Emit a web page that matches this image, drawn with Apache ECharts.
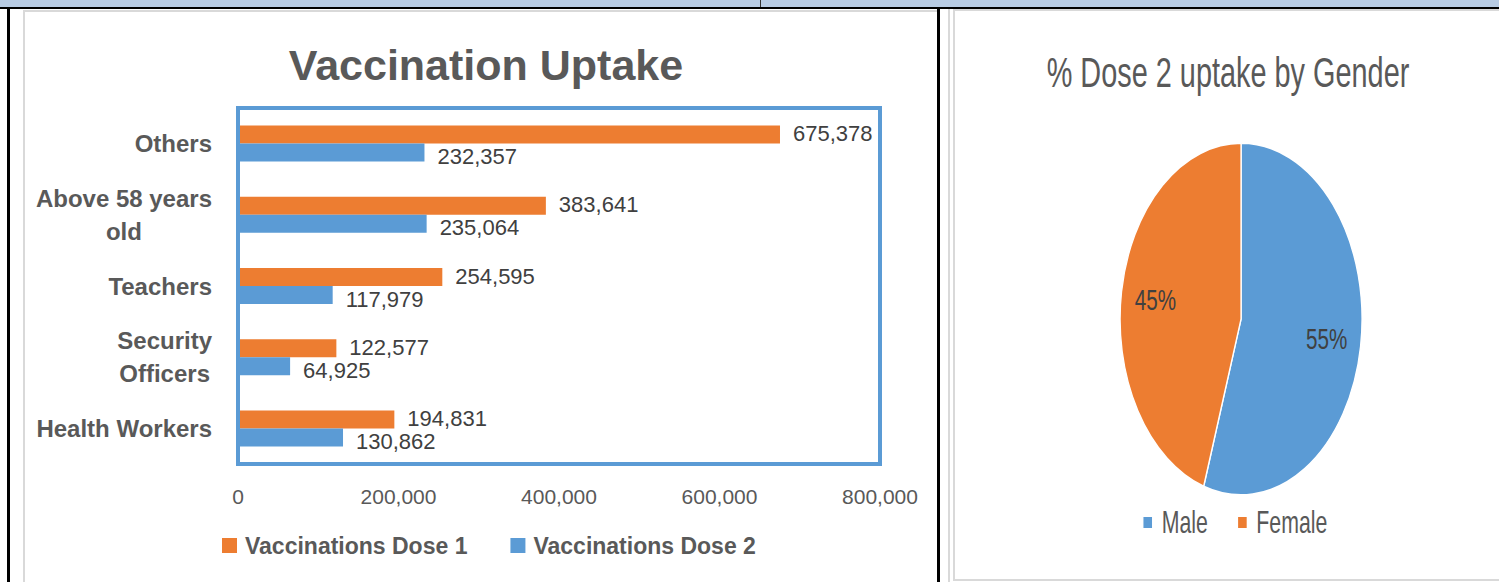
<!DOCTYPE html>
<html>
<head>
<meta charset="utf-8">
<script src="https://cdn.jsdelivr.net/npm/echarts@6/dist/echarts.min.js"></script>
<style>
  html, body { margin: 0; padding: 0; width: 1499px; height: 582px; overflow: hidden; background: #fff; }
  .ln { position: absolute; }
  #bar { position: absolute; left: 0; top: 0; width: 937px; height: 582px; }
  #pie { position: absolute; left: 953px; top: 0; width: 794px; height: 582px; transform: scaleX(0.6875); transform-origin: 0 0; }
</style>
</head>
<body>
<!-- table / frame lines -->
<div class="ln" style="left:0;top:0;width:1499px;height:7px;background:#b8cce4"></div>
<div class="ln" style="left:760px;top:0;width:1px;height:7px;background:#333"></div>
<div class="ln" style="left:0;top:7px;width:1499px;height:2px;background:#000"></div>
<div class="ln" style="left:7px;top:9px;width:3px;height:573px;background:#000"></div>
<div class="ln" style="left:23px;top:10px;width:914px;height:2px;background:#d9d9d9"></div>
<div class="ln" style="left:23px;top:10px;width:2px;height:572px;background:#d9d9d9"></div>
<div class="ln" style="left:937px;top:9px;width:3px;height:573px;background:#000"></div>
<div class="ln" style="left:948px;top:9px;width:2px;height:573px;background:#d9d9d9"></div>
<div class="ln" style="left:953px;top:9px;width:546px;height:2px;background:#d9d9d9"></div>
<div class="ln" style="left:953px;top:9px;width:2px;height:572px;background:#d9d9d9"></div>
<div class="ln" style="left:953px;top:579px;width:546px;height:2px;background:#d9d9d9"></div>
<div id="bar"></div>
<div id="pie"></div>
<script>
// ---- data ----
const categories = ['Health Workers', 'Security Officers', 'Teachers', 'Above 58 years old', 'Others'];
const dose1 = [194831, 122577, 254595, 383641, 675378];
const dose2 = [130862, 64925, 117979, 235064, 232357];
const xTicks = [0, 200000, 400000, 600000, 800000];
const seriesNames = ['Vaccinations Dose 1', 'Vaccinations Dose 2'];
const genders = ['Male', 'Female'];
const genderShare = [55, 45];

// ---- styles ----
const FONT = '"Liberation Sans", Arial, sans-serif';
const ORANGE = '#ed7d31';
const BLUE = '#5b9bd5';
const GREY = '#595959';
const DARK = '#404040';
const fmt = v => Number(v).toLocaleString('en-US');

// wrap a category label to a max width, then centre each line in the block
const measureCtx = document.createElement('canvas').getContext('2d');
measureCtx.font = 'bold 24px ' + FONT;
function wrapLabel(text, maxW) {
  const words = text.split(' ');
  const lines = [];
  let cur = '';
  words.forEach(w => {
    const t = cur ? cur + ' ' + w : w;
    if (cur && measureCtx.measureText(t).width > maxW) { lines.push(cur); cur = w; }
    else cur = t;
  });
  if (cur) lines.push(cur);
  return lines.map(l => '{c|' + l + '}').join('\n');
}

const bar = echarts.init(document.getElementById('bar'), null, { renderer: 'svg' });
bar.setOption({
  animation: false,
  backgroundColor: 'transparent',
  title: {
    text: 'Vaccination Uptake',
    left: 486, top: 43, padding: 0, textAlign: 'center',
    textStyle: { fontFamily: FONT, fontSize: 43, fontWeight: 'bold', color: GREY }
  },
  legend: {
    data: seriesNames,
    left: 222, top: 534, padding: 0,
    itemWidth: 15, itemHeight: 15, itemGap: 43, icon: 'rect',
    textStyle: { fontFamily: FONT, fontSize: 23, fontWeight: 'bold', color: GREY, padding: [0, 0, 0, 3] }
  },
  grid: {
    left: 238, right: 57, top: 108, bottom: 118,
    show: true, borderColor: BLUE, borderWidth: 4, backgroundColor: 'transparent',
    containLabel: false, outerBoundsMode: 'none', z: 5
  },
  xAxis: {
    type: 'value',
    min: xTicks[0], max: xTicks[xTicks.length - 1], interval: xTicks[1] - xTicks[0],
    axisLine: { show: false }, axisTick: { show: false }, splitLine: { show: false },
    axisLabel: { margin: 22, fontFamily: FONT, fontSize: 21, color: GREY, formatter: fmt }
  },
  yAxis: {
    type: 'category',
    data: categories,
    axisLine: { show: false }, axisTick: { show: false },
    axisLabel: {
      margin: 26, align: 'right',
      formatter: v => wrapLabel(v, 185),
      rich: { c: { align: 'center', fontFamily: FONT, fontSize: 24, fontWeight: 'bold', color: GREY, lineHeight: 33 } }
    }
  },
  series: [
    {
      name: seriesNames[0], type: 'bar', data: dose1, barWidth: 18, barGap: '0%', barCategoryGap: '50%',
      itemStyle: { color: ORANGE },
      label: { show: true, position: 'right', distance: 13, offset: [0, -1], fontFamily: FONT, fontSize: 22, color: DARK, formatter: p => fmt(p.value) }
    },
    {
      name: seriesNames[1], type: 'bar', data: dose2, barWidth: 18, barGap: '0%',
      itemStyle: { color: BLUE },
      label: { show: true, position: 'right', distance: 13, offset: [0, 4], fontFamily: FONT, fontSize: 22, color: DARK, formatter: p => fmt(p.value) }
    }
  ]
});

const pieColors = [BLUE, ORANGE];
const pieData = genders.map((g, i) => ({ name: g, value: genderShare[i], itemStyle: { color: pieColors[i] } }));
const labelData = genders.map((g, i) => ({ name: g, value: genderShare[i], itemStyle: { color: 'rgba(0,0,0,0)' } }));

const pie = echarts.init(document.getElementById('pie'), null, { renderer: 'svg' });
pie.setOption({
  animation: false,
  backgroundColor: 'transparent',
  title: {
    text: '% Dose 2 uptake by Gender',
    left: 400, top: 51, padding: 0, textAlign: 'center',
    textStyle: { fontFamily: FONT, fontSize: 42, fontWeight: 'normal', color: GREY }
  },
  legend: {
    data: genders.map((g, i) => ({ name: g, itemStyle: { color: pieColors[i] } })),
    left: 275, top: 507, padding: 0,
    itemWidth: 14.5, itemHeight: 13, itemGap: 42, icon: 'rect',
    textStyle: { fontFamily: FONT, fontSize: 31, color: GREY, padding: [0, 0, 0, 8] }
  },
  series: [
    {
      type: 'pie', center: [419, 319], radius: [0, 176], startAngle: 90, clockwise: true,
      data: pieData, silent: true,
      itemStyle: { borderColor: '#fff', borderWidth: 2 },
      label: { show: false }, labelLine: { show: false }
    },
    {
      type: 'pie', center: [419, 319], radius: [70, 176], startAngle: 90, clockwise: true,
      data: labelData, silent: true, z: 3,
      label: { show: true, position: 'inside', fontFamily: FONT, fontSize: 30, color: DARK, formatter: p => p.value + '%' },
      labelLine: { show: false }
    }
  ]
});
</script>
</body>
</html>
